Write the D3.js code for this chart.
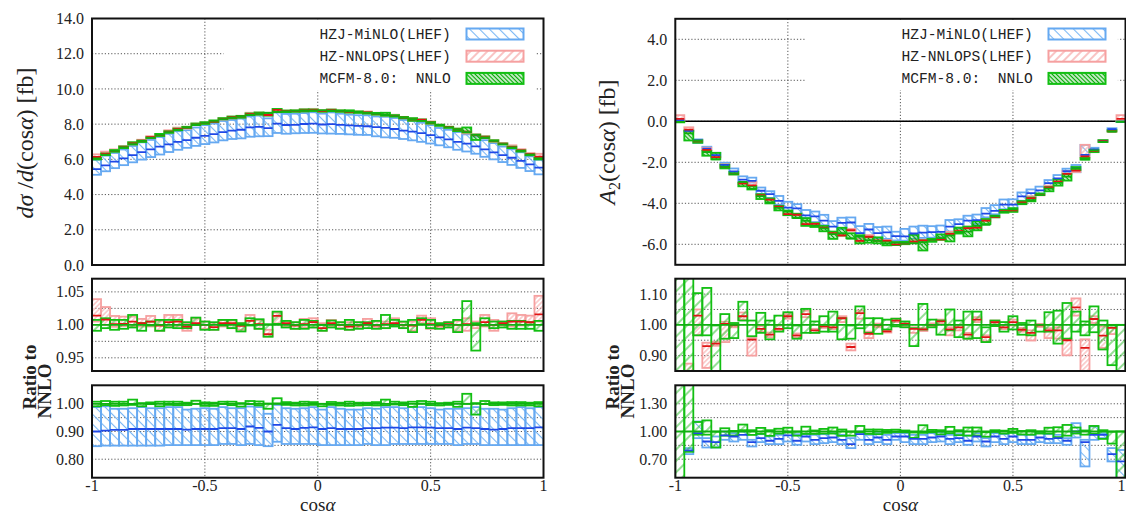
<!DOCTYPE html>
<html><head><meta charset="utf-8">
<script src="https://cdn.jsdelivr.net/npm/d3@7"></script>
<style>body{margin:0;background:#fff}svg{display:block}text{font-family:"Liberation Serif",serif}</style>
</head><body><svg id="c" width="1126" height="515"></svg>
<script>
// ---------------- DATA ----------------
const binEdges = [-1.00,-0.96,-0.92,-0.88,-0.84,-0.80,-0.76,-0.72,-0.68,-0.64,-0.60,-0.56,-0.52,-0.48,-0.44,-0.40,-0.36,-0.32,-0.28,-0.24,-0.20,-0.16,-0.12,-0.08,-0.04,0.00,0.04,0.08,0.12,0.16,0.20,0.24,0.28,0.32,0.36,0.40,0.44,0.48,0.52,0.56,0.60,0.64,0.68,0.72,0.76,0.80,0.84,0.88,0.92,0.96,1.00];
const seriesNames = ["HZJ-MiNLO(LHEF)","HZ-NNLOPS(LHEF)","MCFM-8.0:  NNLO"];
const xTickValues = [-1,-0.5,0,0.5,1];
const xTickLabels = ["-1","-0.5","0","0.5","1"];
const xGridValues = [-0.5,0,0.5];

// Left: dsigma/dcos(alpha) [fb], NNLO central
const leftNNLO = [6.05,6.27,6.48,6.68,6.87,7.05,7.22,7.39,7.54,7.69,7.82,7.95,8.07,8.18,8.28,8.37,8.45,8.52,8.59,8.64,8.69,8.72,8.75,8.77,8.78,8.78,8.77,8.75,8.72,8.69,8.64,8.59,8.52,8.45,8.37,8.28,8.18,8.07,7.95,7.82,7.69,7.54,7.39,7.22,7.05,6.87,6.68,6.48,6.27,6.05];
// ratios to NNLO central
const leftGreenHi = [1.0075,1.010,1.0075,1.0075,1.015,1.0025,1.005,1.0075,1.0075,1.0075,1.004,1.011,1.005,1.004,1.0075,1.0075,1.0025,1.010,1.0085,1.001,1.020,1.006,1.004,1.0075,1.006,1.000,1.0065,1.004,1.0075,1.004,1.004,1.006,1.015,1.0075,1.005,1.0075,1.010,1.0075,1.0025,1.004,1.0075,1.036,1.0025,1.010,1.005,1.005,1.006,1.006,1.004,1.006];
const leftGreenLo = [0.991,0.995,0.9925,0.994,0.996,0.991,0.999,0.991,0.996,0.995,0.995,1.000,0.9925,0.9925,0.999,0.995,0.990,0.999,0.994,0.982,1.0015,0.996,0.994,0.994,0.996,0.991,0.996,0.994,0.9925,0.994,0.995,0.994,0.995,0.9975,0.995,0.989,1.001,0.995,0.994,0.996,0.989,1.000,0.961,0.999,0.995,0.996,0.994,0.994,0.994,0.991];
const leftRedC = [1.014,1.008,1.001,1.0015,1.005,1.0025,1.005,0.999,1.004,1.005,0.9975,1.0025,1.000,0.9965,1.0025,1.0025,0.9985,1.006,1.001,0.986,1.0135,1.0025,0.999,1.001,1.004,0.995,1.0025,1.000,0.9975,0.999,1.0025,0.999,1.001,1.0025,1.000,0.999,1.0075,1.001,0.999,1.001,1.000,1.001,1.000,1.004,1.000,1.0025,1.005,1.005,1.004,1.016];
const leftRedHi = [1.039,1.027,1.0135,1.0125,1.0125,1.009,1.0135,1.006,1.015,1.015,1.0025,1.010,1.005,1.001,1.0075,1.0065,1.0025,1.015,1.0075,0.9925,1.0185,1.006,1.004,1.009,1.010,1.0025,1.0075,1.004,1.004,1.004,1.009,1.005,1.005,1.010,1.004,1.005,1.014,1.010,1.0025,1.004,1.006,1.010,1.005,1.015,1.0075,1.005,1.0175,1.015,1.014,1.044];
const leftRedLo = [1.005,1.000,0.997,0.998,0.9975,0.9975,0.9975,0.991,0.9975,0.9985,0.991,1.000,0.994,0.9925,0.9975,0.995,0.9925,1.000,0.994,0.9825,1.002,0.9975,0.994,0.996,0.996,0.991,0.9975,0.995,0.9925,0.995,0.999,0.995,0.995,1.000,0.996,0.991,1.0025,0.994,0.995,0.9975,0.990,0.991,0.995,0.9975,0.991,0.999,0.9975,0.999,1.0025,1.005];
const leftBlueC = [0.900,0.903,0.906,0.906,0.909,0.909,0.909,0.909,0.909,0.909,0.907,0.909,0.909,0.909,0.912,0.912,0.909,0.918,0.913,0.900,0.924,0.912,0.909,0.913,0.915,0.909,0.912,0.909,0.909,0.909,0.912,0.912,0.914,0.914,0.912,0.915,0.915,0.914,0.912,0.912,0.909,0.914,0.912,0.909,0.907,0.909,0.912,0.912,0.912,0.915];
const leftBlueHi = [0.988,0.991,0.982,0.982,0.984,0.988,0.984,0.984,0.988,0.988,0.979,0.982,0.984,0.982,0.988,0.984,0.984,0.990,0.988,0.964,0.996,0.984,0.982,0.984,0.988,0.979,0.988,0.982,0.979,0.979,0.984,0.982,0.988,0.988,0.984,0.988,0.988,0.984,0.979,0.982,0.982,0.984,0.988,0.982,0.982,0.979,0.984,0.988,0.984,0.988];
const leftBlueLo = [0.847,0.849,0.849,0.849,0.849,0.849,0.849,0.849,0.851,0.851,0.851,0.851,0.851,0.851,0.855,0.855,0.851,0.855,0.851,0.847,0.863,0.855,0.855,0.855,0.855,0.851,0.851,0.851,0.851,0.851,0.855,0.851,0.851,0.855,0.855,0.855,0.855,0.855,0.855,0.855,0.851,0.855,0.855,0.851,0.851,0.851,0.851,0.851,0.851,0.851];

// Right: A2(cos alpha) [fb], NNLO central
const rightNNLO = [-0.03,-0.585,-0.95,-1.50,-1.86,-2.22,-2.58,-2.95,-3.28,-3.65,-3.95,-4.22,-4.40,-4.72,-4.85,-5.10,-5.22,-5.50,-5.45,-5.72,-5.62,-5.80,-5.83,-5.95,-5.92,-5.93,-5.95,-5.90,-5.78,-5.70,-5.58,-5.40,-5.38,-5.10,-5.05,-4.62,-4.42,-4.30,-4.02,-3.85,-3.60,-3.28,-3.00,-2.70,-2.28,-1.85,-1.42,-1.00,-0.50,-0.03];
const rightGreenHi = [1.7,1.6,1.103,1.12,0.998,1.035,1.006,1.075,1.014,1.039,1.014,1.03,1.041,0.998,1.052,1.011,1.028,1.043,1.0215,0.998,1.06,1.0215,1.0215,1.017,1.02,1.011,0.989,1.068,1.017,1.014,1.05,1.014,1.043,1.043,0.992,1.014,1.009,1.028,1.006,1.014,1.0,1.041,1.046,1.071,1.043,1.011,1.06,1.014,0.998,1.0];
const rightGreenLo = [0.3,0.78,0.966,0.966,0.827,0.955,0.957,1.014,0.963,0.974,0.953,0.978,0.989,0.955,0.974,0.974,0.978,0.978,0.953,0.955,0.989,0.974,0.971,0.985,0.995,0.992,0.931,0.985,0.992,0.968,0.982,0.96,0.955,0.957,0.944,0.996,0.978,0.985,0.968,0.966,0.978,0.978,0.939,0.955,0.978,0.966,0.976,0.92,0.869,0.3];
const rightRedC = [-4,0.70,1.03,0.931,0.939,1.003,0.998,1.028,0.952,0.987,0.968,0.987,1.028,0.966,1.035,0.982,0.995,0.992,1.0215,0.928,1.038,0.971,0.998,0.9785,1.014,1.003,0.987,0.985,1.0,1.011,0.985,0.992,0.968,1.017,0.96,1.009,0.992,1.009,0.984,0.974,0.998,0.982,0.982,0.95,1.057,0.925,1.019,0.965,0.99,-4];
const rightRedHi = [-0.5,0.874,1.05,0.942,0.945,1.01,1.004,1.04,0.957,0.996,0.975,0.998,1.035,0.972,1.046,0.987,1.0,0.998,1.028,0.939,1.046,0.978,1.004,0.982,1.02,1.009,0.992,0.99,1.005,1.017,0.992,0.998,0.974,1.025,0.966,1.014,0.998,1.017,0.99,0.982,1.003,0.989,0.992,0.955,1.086,0.953,1.028,0.995,1.0,-0.5];
const rightRedLo = [-10,0.5,0.966,0.86,0.932,0.944,0.992,1.017,0.90,0.978,0.96,0.982,1.02,0.96,1.025,0.974,0.99,0.986,1.009,0.917,1.02,0.957,0.992,0.975,1.009,0.996,0.974,0.98,0.995,1.003,0.966,0.982,0.955,1.009,0.946,1.003,0.986,0.998,0.978,0.949,0.993,0.957,0.955,0.901,1.03,0.62,1.006,0.925,0.97,-10];
const rightBlueC = [-2,0.795,0.982,0.892,0.885,0.957,0.946,0.964,0.885,0.928,0.9,0.92,0.957,0.9,0.946,0.91,0.928,0.935,0.91,0.863,0.971,0.91,0.935,0.91,0.946,0.946,0.92,0.92,0.935,0.946,0.92,0.928,0.9,0.946,0.892,0.946,0.92,0.946,0.91,0.91,0.935,0.92,0.928,0.9,1.0,0.885,0.964,0.964,0.755,0.676];
const rightBlueHi = [-1,0.82,1.108,0.928,0.946,1.0,0.982,1.0,0.91,0.971,0.946,0.964,0.993,0.971,0.971,0.964,0.971,0.982,0.964,0.928,1.0,0.964,0.982,0.964,0.982,0.982,0.964,0.964,0.982,0.993,0.964,0.971,0.957,0.982,0.928,0.982,0.971,0.993,0.964,0.964,0.982,0.971,0.964,0.928,1.09,0.91,1.054,0.982,0.82,0.80];
const rightBlueLo = [-3,0.755,0.928,0.827,0.827,0.91,0.892,0.91,0.838,0.885,0.863,0.863,0.892,0.856,0.892,0.863,0.874,0.885,0.863,0.82,0.91,0.863,0.885,0.863,0.91,0.885,0.863,0.863,0.885,0.892,0.863,0.885,0.856,0.892,0.838,0.885,0.863,0.885,0.863,0.863,0.885,0.874,0.874,0.856,0.935,0.622,0.91,0.928,0.676,0.45];

// axis ticks
const leftTopTicks = [0,2,4,6,8,10,12,14];
const leftR1Ticks = [0.95,1.00,1.05], leftR1Grid = [0.95,0.975,1.0,1.025,1.05];
const leftR2Ticks = [0.80,0.90,1.00], leftR2Grid = [0.80,0.85,0.90,0.95,1.00];
const rightTopTicks = [-6,-4,-2,0,2,4];
const rightR1Ticks = [0.90,1.00,1.10], rightR1Grid = [0.90,0.95,1.0,1.05,1.10];
const rightR2Ticks = [0.70,1.00,1.30], rightR2Grid = [0.70,0.85,1.0,1.15,1.30];

// ---------------- DRAW ----------------
const W = 1126;
const svg = d3.select('#c');
const defs = svg.append('defs');
function hatch(id, sp, color, w, ang){
  const p = defs.append('pattern').attr('id',id).attr('patternUnits','userSpaceOnUse')
    .attr('width',sp).attr('height',sp).attr('patternTransform',`rotate(${ang})`);
  p.append('line').attr('x1',sp/2).attr('x2',sp/2).attr('y1',-1).attr('y2',sp+1)
    .attr('stroke',color).attr('stroke-width',w);
}
hatch('hBlue',7,'#78b6f4',1.1,-45);
hatch('hRed',3.5,'#f6a6a6',1,45);
hatch('hGreen',8,'#2cbf2c',1,45);
hatch('hGreenDense',3,'#00a800',1.5,-45);
hatch('hRedLeg',6,'#f59d9d',1.2,45);

const C = {
  blueStroke:'#66a9f1', blueLine:'#1f48e6',
  redStroke:'#f6a0a0', redLine:'#e01414',
  greenStroke:'#12bf12', greenLine:'#10b010',
  grid:'#444', frame:'#111', text:'#222'
};
const N = binEdges.length-1;
const idx = d3.range(N);
let clipN = 0;

function panel(o){
  const x = d3.scaleLinear().domain([-1,1]).range(o.xr);
  const y = d3.scaleLinear().domain(o.yd).range(o.yr);
  const g = svg.append('g');
  const cid = 'clip'+(clipN++);
  defs.append('clipPath').attr('id',cid).append('rect')
    .attr('x',o.xr[0]).attr('y',o.yr[1]).attr('width',o.xr[1]-o.xr[0]).attr('height',o.yr[0]-o.yr[1]);
  const gg = g.append('g').attr('stroke',C.grid).attr('stroke-width',0.9).attr('stroke-dasharray','1.2,2');
  gg.selectAll('.hg').data(o.grid).join('line')
    .attr('x1',o.xr[0]).attr('x2',o.xr[1]).attr('y1',d=>y(d)).attr('y2',d=>y(d));
  gg.selectAll('.vg').data(xGridValues).join('line')
    .attr('x1',d=>x(d)).attr('x2',d=>x(d)).attr('y1',o.yr[1]).attr('y2',o.yr[0]);
  if (o.legend){
    g.append('rect').attr('x',o.xr[1]-320).attr('y',o.yr[1]+1).attr('width',312.4).attr('height',90-o.yr[1]-1).attr('fill','#fff');
  }
  if (o.zero){
    g.append('line').attr('x1',o.xr[0]).attr('x2',o.xr[1]).attr('y1',y(0)).attr('y2',y(0))
      .attr('stroke','#000').attr('stroke-width',1.4);
  }
  const dg = g.append('g').attr('clip-path',`url(#${cid})`);
  function band(s){
    dg.append('g').selectAll('rect').data(idx).join('rect')
      .attr('x',i=>x(binEdges[i])).attr('width',i=>x(binEdges[i+1])-x(binEdges[i]))
      .attr('y',i=>y(Math.max(s.lo[i],s.hi[i])))
      .attr('height',i=>Math.abs(y(s.lo[i])-y(s.hi[i])))
      .attr('fill',`url(#${s.pat})`).attr('stroke',s.stroke).attr('stroke-width',s.sw||1.8);
  }
  function cline(s){
    dg.append('g').selectAll('line').data(idx).join('line')
      .attr('x1',i=>x(binEdges[i])).attr('x2',i=>x(binEdges[i+1]))
      .attr('y1',i=>y(s.c[i])).attr('y2',i=>y(s.c[i]))
      .attr('stroke',s.line).attr('stroke-width',s.lw||1.8);
  }
  o.series.forEach(band);
  o.series.forEach(cline);
  g.append('rect').attr('x',o.xr[0]).attr('y',o.yr[1]).attr('width',o.xr[1]-o.xr[0]).attr('height',o.yr[0]-o.yr[1])
    .attr('fill','none').attr('stroke',C.frame).attr('stroke-width',2);
  g.selectAll('.yl').data(o.ticks).join('text')
    .attr('x',o.xr[0]-8).attr('y',d=>y(d)).attr('dy','0.35em').attr('text-anchor','end')
    .attr('font-size',16).attr('fill',C.text).text(d=>d.toFixed(o.dec));
  if (o.xlabels){
    g.selectAll('.xl').data(xTickValues).join('text')
      .attr('x',d=>Math.min(x(d),W-0.5)).attr('y',o.yr[0]+13.6)
      .attr('text-anchor',d=>x(d)+5>W?'end':'middle')
      .attr('font-size',16).attr('fill',C.text).text((d,i)=>xTickLabels[i]);
    const t = g.append('text').attr('x',x(0)).attr('y',511.3).attr('text-anchor','middle').attr('font-size',19).attr('fill',C.text);
    t.append('tspan').text('cos'); t.append('tspan').attr('font-style','italic').text('α');
  }
  if (o.legend){
    const R = o.xr[1];
    const rows = [
      {pat:'hBlue',stroke:C.blueStroke},
      {pat:'hRedLeg',stroke:C.redStroke},
      {pat:'hGreenDense',stroke:C.greenStroke}];
    rows.forEach((r,k)=>{
      const base = 39 + k*22.2;
      g.append('text').attr('x',R-224).attr('y',base).attr('font-size',14.6)
        .style('font-family','"Liberation Mono",monospace').style('white-space','pre')
        .attr('fill',C.text).text(seriesNames[k]);
      g.append('rect').attr('x',R-77).attr('y',base-10.5).attr('width',57).attr('height',11)
        .attr('fill',`url(#${r.pat})`).attr('stroke',r.stroke).attr('stroke-width',2);
    });
  }
  return {x,y};
}

function mul(a,b){ return a.map((v,i)=>v*b[i]); }
const ones = d3.range(N).map(()=>1);

function side(s){
  const nn = s.nnlo;
  panel({xr:s.xr, yd:s.topD, yr:[s.topY[0],s.topY[1]], grid:s.topTicks, ticks:s.topTicks, dec:1, legend:true, zero:s.zero,
    series:[
      {lo:mul(nn,s.bLo),hi:mul(nn,s.bHi),c:mul(nn,s.bC),pat:'hBlue',stroke:C.blueStroke,line:C.blueLine},
      {lo:mul(nn,s.rLo),hi:mul(nn,s.rHi),c:mul(nn,s.rC),pat:'hRed',stroke:C.redStroke,line:C.redLine},
      {lo:mul(nn,s.gLo),hi:mul(nn,s.gHi),c:nn,pat:'hGreenDense',stroke:C.greenStroke,line:C.greenLine}
    ]});
  panel({xr:s.xr, yd:s.r1D, yr:[371,278.7], grid:s.r1Grid, ticks:s.r1Ticks, dec:2,
    series:[
      {lo:s.rLo,hi:s.rHi,c:s.rC,pat:'hRed',stroke:C.redStroke,line:C.redLine},
      {lo:s.gLo,hi:s.gHi,c:ones,pat:'hGreen',stroke:C.greenStroke,line:C.greenLine}
    ]});
  panel({xr:s.xr, yd:s.r2D, yr:[477.7,385.3], grid:s.r2Grid, ticks:s.r2Ticks, dec:2, xlabels:true,
    series:[
      {lo:s.bLo,hi:s.bHi,c:s.bC,pat:'hBlue',stroke:C.blueStroke,line:C.blueLine},
      {lo:s.gLo,hi:s.gHi,c:ones,pat:'hGreen',stroke:C.greenStroke,line:C.greenLine}
    ]});
  const rl = (txt,cx,cy)=>svg.append('text').attr('transform',`translate(${cx},${cy}) rotate(-90)`)
    .attr('text-anchor','middle').attr('font-size',19).attr('font-weight','bold').attr('fill',C.text).text(txt);
  rl('Ratio to', s.xr[0]-56, 377);
  rl('NNLO', s.xr[0]-41, 391);
}

side({xr:[92,543.5], nnlo:leftNNLO, topD:[0,14], topY:[265,18.5], topTicks:leftTopTicks, zero:false,
  gLo:leftGreenLo,gHi:leftGreenHi,rC:leftRedC,rLo:leftRedLo,rHi:leftRedHi,bC:leftBlueC,bLo:leftBlueLo,bHi:leftBlueHi,
  r1D:[0.93,1.07], r1Ticks:leftR1Ticks, r1Grid:leftR1Grid, r2D:[0.7333,1.0667], r2Ticks:leftR2Ticks, r2Grid:leftR2Grid});
side({xr:[675.3,1125.5], nnlo:rightNNLO, topD:[-7,5], topY:[264.8,18.8], topTicks:rightTopTicks, zero:true,
  gLo:rightGreenLo,gHi:rightGreenHi,rC:rightRedC,rLo:rightRedLo,rHi:rightRedHi,bC:rightBlueC,bLo:rightBlueLo,bHi:rightBlueHi,
  r1D:[0.85,1.15], r1Ticks:rightR1Ticks, r1Grid:rightR1Grid, r2D:[0.5,1.5], r2Ticks:rightR2Ticks, r2Grid:rightR2Grid});

function ytitle(cx,cy,parts){
  const t = svg.append('text').attr('transform',`translate(${cx},${cy}) rotate(-90)`)
    .attr('text-anchor','middle').attr('font-size',24).attr('fill',C.text);
  parts.forEach(p=>{
    const s = t.append('tspan').text(p[0]);
    if (p[1]==='i') s.attr('font-style','italic');
    if (p[1]==='sub') s.attr('font-size',16).attr('dy',5);
    if (p[1]==='up') s.attr('dy',-5);
  });
}
ytitle(33,143,[['d','i'],['σ','i'],[' /','n'],['d','i'],['(cos','n'],['α','i'],[')  [fb]','n']]);
ytitle(615,142,[['A','i'],['2','sub'],['(cos','up'],['α','i'],[')  [fb]','n']]);
</script></body></html>
